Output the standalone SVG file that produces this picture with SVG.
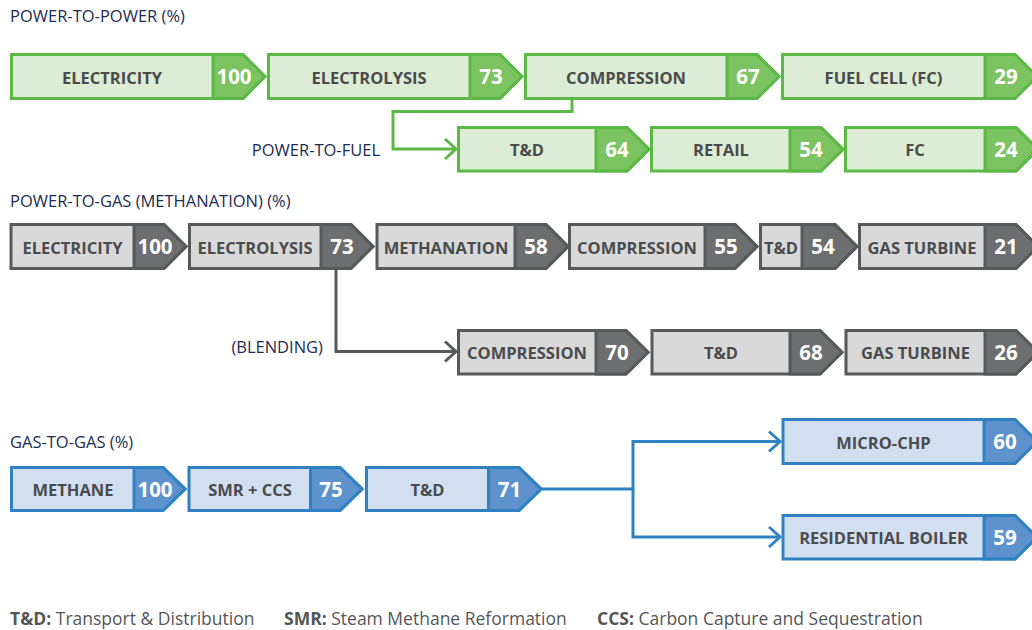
<svg xmlns="http://www.w3.org/2000/svg" width="1032" height="630" viewBox="0 0 1032 630">
<defs>
<style>
.hdr{font-family:"Open Sans","Noto Sans",sans-serif;font-size:16.5px;fill:#1e2b50}
.lbl{font-family:"Open Sans","Noto Sans",sans-serif;font-size:16.5px;font-weight:bold;fill:#4a4b4d;text-anchor:middle}
.num{font-family:"Open Sans","Noto Sans",sans-serif;font-size:20.5px;font-weight:bold;fill:#ffffff;text-anchor:middle}
.leg{font-family:"Open Sans","Noto Sans",sans-serif;font-size:17.5px;fill:#555658}
.leg .b{font-weight:bold}
.g .box{fill:#ddecd4;stroke:#5cb947;stroke-width:3}
.g .nb{fill:#7cc361;stroke:#5cb947;stroke-width:3}
.k .box{fill:#d9d9da;stroke:#58595b;stroke-width:3}
.k .nb{fill:#6d6e70;stroke:#58595b;stroke-width:3}
.b .box{fill:#d2dff1;stroke:#2f81c4;stroke-width:3}
.b .nb{fill:#5e92cd;stroke:#2f81c4;stroke-width:3}
.cg{fill:none;stroke:#5cb947;stroke-width:3}
.ck{fill:none;stroke:#58595b;stroke-width:3}
.cb{fill:none;stroke:#2f81c4;stroke-width:3}
</style>
<marker id="ag" markerUnits="userSpaceOnUse" markerWidth="16" markerHeight="24" viewBox="0 0 16 24" refX="13" refY="12" orient="auto"><path d="M2,2 L13,12 L2,22" fill="none" stroke="#5cb947" stroke-width="3"/></marker>
<marker id="ak" markerUnits="userSpaceOnUse" markerWidth="16" markerHeight="24" viewBox="0 0 16 24" refX="13" refY="12" orient="auto"><path d="M2,2 L13,12 L2,22" fill="none" stroke="#58595b" stroke-width="3"/></marker>
<marker id="ab" markerUnits="userSpaceOnUse" markerWidth="16" markerHeight="24" viewBox="0 0 16 24" refX="13" refY="12" orient="auto"><path d="M2,2 L13,12 L2,22" fill="none" stroke="#2f81c4" stroke-width="3"/></marker>
</defs>
<rect width="1032" height="630" fill="#ffffff"/>

<text class="hdr" x="10" y="22">POWER-TO-POWER (%)</text>
<text class="hdr" x="380" y="156" text-anchor="end">POWER-TO-FUEL</text>
<text class="hdr" x="10" y="207">POWER-TO-GAS (METHANATION) (%)</text>
<text class="hdr" x="323" y="353" text-anchor="end">(BLENDING)</text>
<text class="hdr" x="10" y="448">GAS-TO-GAS (%)</text>

<g id="connectors">
<path class="cg" d="M572,100 V111.5 H393 V149 H456" marker-end="url(#ag)"/>
<path class="ck" d="M336,270 V351.5 H456" marker-end="url(#ak)"/>
<path class="cb" d="M541,489 H633 V441.5 H780" marker-end="url(#ab)"/>
<path class="cb" d="M633,489 V537 H780" marker-end="url(#ab)"/>
</g>

<!-- Power-to-power row 1 -->
<g id="pp-electricity" class="g"><path class="box" d="M11.5,54.5 H243 L265,76.5 L243,98.5 H11.5 Z"/><path class="nb" d="M213,54.5 H243 L265,76.5 L243,98.5 H213 Z"/><text class="lbl" x="112" y="83.5">ELECTRICITY</text><text class="num" x="234" y="84">100</text></g>
<g id="pp-electrolysis" class="g"><path class="box" d="M268.5,54.5 H500 L522,76.5 L500,98.5 H268.5 Z"/><path class="nb" d="M470,54.5 H500 L522,76.5 L500,98.5 H470 Z"/><text class="lbl" x="369" y="83.5">ELECTROLYSIS</text><text class="num" x="491" y="84">73</text></g>
<g id="pp-compression" class="g"><path class="box" d="M525.5,54.5 H757 L779,76.5 L757,98.5 H525.5 Z"/><path class="nb" d="M727,54.5 H757 L779,76.5 L757,98.5 H727 Z"/><text class="lbl" x="626" y="83.5">COMPRESSION</text><text class="num" x="748" y="84">67</text></g>
<g id="pp-fuelcell" class="g"><path class="box" d="M782.5,54.5 H1015 L1037,76.5 L1015,98.5 H782.5 Z"/><path class="nb" d="M985,54.5 H1015 L1037,76.5 L1015,98.5 H985 Z"/><text class="lbl" x="883.5" y="83.5">FUEL CELL (FC)</text><text class="num" x="1006" y="84">29</text></g>

<!-- Power-to-fuel row 2 -->
<g id="pf-td" class="g"><path class="box" d="M458.5,127.5 H627 L649,149.25 L627,171 H458.5 Z"/><path class="nb" d="M596,127.5 H627 L649,149.25 L627,171 H596 Z"/><text class="lbl" x="527" y="156">T&amp;D</text><text class="num" x="617" y="156.5">64</text></g>
<g id="pf-retail" class="g"><path class="box" d="M651.5,127.5 H821 L843,149.25 L821,171 H651.5 Z"/><path class="nb" d="M790,127.5 H821 L843,149.25 L821,171 H790 Z"/><text class="lbl" x="721" y="156">RETAIL</text><text class="num" x="811" y="156.5">54</text></g>
<g id="pf-fc" class="g"><path class="box" d="M845.5,127.5 H1016 L1038,149.25 L1016,171 H845.5 Z"/><path class="nb" d="M985,127.5 H1016 L1038,149.25 L1016,171 H985 Z"/><text class="lbl" x="915" y="156">FC</text><text class="num" x="1006" y="156.5">24</text></g>

<!-- Power-to-gas row 1 -->
<g id="pg-electricity" class="k"><path class="box" d="M11,224.5 H164 L186,246.5 L164,268.5 H11 Z"/><path class="nb" d="M134,224.5 H164 L186,246.5 L164,268.5 H134 Z"/><text class="lbl" x="72.5" y="253.5">ELECTRICITY</text><text class="num" x="155" y="254">100</text></g>
<g id="pg-electrolysis" class="k"><path class="box" d="M189.5,224.5 H351 L373,246.5 L351,268.5 H189.5 Z"/><path class="nb" d="M321,224.5 H351 L373,246.5 L351,268.5 H321 Z"/><text class="lbl" x="255" y="253.5">ELECTROLYSIS</text><text class="num" x="342" y="254">73</text></g>
<g id="pg-methanation" class="k"><path class="box" d="M377,224.5 H546 L568,246.5 L546,268.5 H377 Z"/><path class="nb" d="M515,224.5 H546 L568,246.5 L546,268.5 H515 Z"/><text class="lbl" x="446" y="253.5">METHANATION</text><text class="num" x="536" y="254">58</text></g>
<g id="pg-compression" class="k"><path class="box" d="M569.5,224.5 H735 L757,246.5 L735,268.5 H569.5 Z"/><path class="nb" d="M705,224.5 H735 L757,246.5 L735,268.5 H705 Z"/><text class="lbl" x="637" y="253.5">COMPRESSION</text><text class="num" x="726" y="254">55</text></g>
<g id="pg-td" class="k"><path class="box" d="M760.5,224.5 H835 L857,246.5 L835,268.5 H760.5 Z"/><path class="nb" d="M802,224.5 H835 L857,246.5 L835,268.5 H802 Z"/><text class="lbl" x="781" y="253.5">T&amp;D</text><text class="num" x="823" y="254">54</text></g>
<g id="pg-gasturbine" class="k"><path class="box" d="M859.5,224.5 H1016 L1038,246.5 L1016,268.5 H859.5 Z"/><path class="nb" d="M985,224.5 H1016 L1038,246.5 L1016,268.5 H985 Z"/><text class="lbl" x="922" y="253.5">GAS TURBINE</text><text class="num" x="1006" y="254">21</text></g>

<!-- Blending row 2 -->
<g id="bl-compression" class="k"><path class="box" d="M458.5,330.5 H626 L648,352.25 L626,374 H458.5 Z"/><path class="nb" d="M596,330.5 H626 L648,352.25 L626,374 H596 Z"/><text class="lbl" x="527" y="359">COMPRESSION</text><text class="num" x="617" y="359.5">70</text></g>
<g id="bl-td" class="k"><path class="box" d="M652,330.5 H820 L842,352.25 L820,374 H652 Z"/><path class="nb" d="M790,330.5 H820 L842,352.25 L820,374 H790 Z"/><text class="lbl" x="721" y="359">T&amp;D</text><text class="num" x="811" y="359.5">68</text></g>
<g id="bl-gasturbine" class="k"><path class="box" d="M846,330.5 H1016 L1038,352.25 L1016,374 H846 Z"/><path class="nb" d="M985,330.5 H1016 L1038,352.25 L1016,374 H985 Z"/><text class="lbl" x="915.5" y="359">GAS TURBINE</text><text class="num" x="1006" y="359.5">26</text></g>

<!-- Gas-to-gas -->
<g id="gg-methane" class="b"><path class="box" d="M11.5,467.5 H163 L185,489 L163,510.5 H11.5 Z"/><path class="nb" d="M134,467.5 H163 L185,489 L163,510.5 H134 Z"/><text class="lbl" x="73" y="496">METHANE</text><text class="num" x="155" y="496.5">100</text></g>
<g id="gg-smr" class="b"><path class="box" d="M189,467.5 H340 L362,489 L340,510.5 H189 Z"/><path class="nb" d="M310.5,467.5 H340 L362,489 L340,510.5 H310.5 Z"/><text class="lbl" x="250" y="496">SMR + CCS</text><text class="num" x="331" y="496.5">75</text></g>
<g id="gg-td" class="b"><path class="box" d="M366.5,467.5 H519 L541,489 L519,510.5 H366.5 Z"/><path class="nb" d="M488.5,467.5 H519 L541,489 L519,510.5 H488.5 Z"/><text class="lbl" x="427.5" y="496">T&amp;D</text><text class="num" x="509.5" y="496.5">71</text></g>
<g id="gg-microchp" class="b"><path class="box" d="M783,419.5 H1015 L1037,441.5 L1015,463.5 H783 Z"/><path class="nb" d="M984,419.5 H1015 L1037,441.5 L1015,463.5 H984 Z"/><text class="lbl" x="883.5" y="448.5">MICRO-CHP</text><text class="num" x="1005" y="449">60</text></g>
<g id="gg-boiler" class="b"><path class="box" d="M783,515.5 H1015 L1037,537.25 L1015,559 H783 Z"/><path class="nb" d="M984,515.5 H1015 L1037,537.25 L1015,559 H984 Z"/><text class="lbl" x="883.5" y="544">RESIDENTIAL BOILER</text><text class="num" x="1005" y="544.5">59</text></g>

<g id="legend">
<text class="leg" x="10" y="625"><tspan class="b">T&amp;D:</tspan> Transport &amp; Distribution</text>
<text class="leg" x="284" y="625"><tspan class="b">SMR:</tspan> Steam Methane Reformation</text>
<text class="leg" x="597" y="625"><tspan class="b">CCS:</tspan> Carbon Capture and Sequestration</text>
</g>
</svg>
